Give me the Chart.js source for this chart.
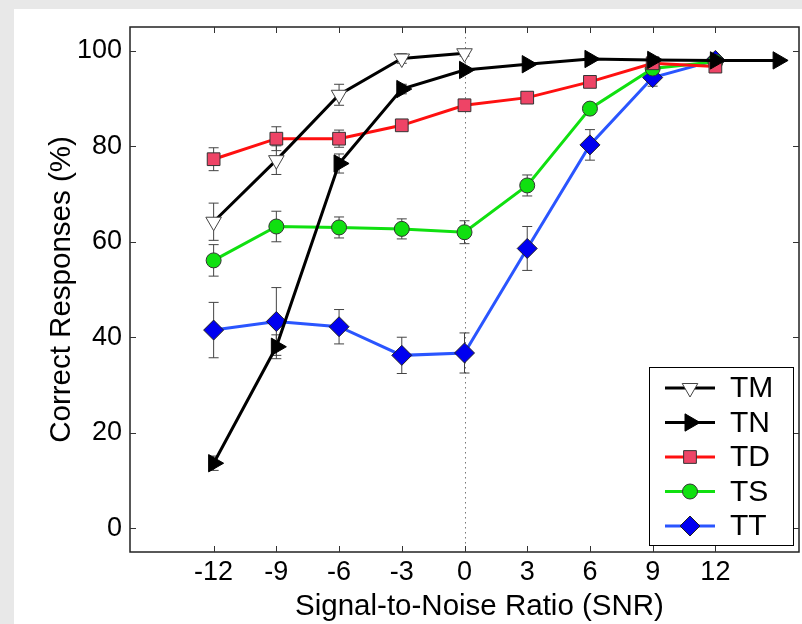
<!DOCTYPE html>
<html>
<head>
<meta charset="utf-8">
<script src="https://cdn.jsdelivr.net/npm/chart.js@4.4.1/dist/chart.umd.min.js"></script>
<style>
    html, body { margin: 0; padding: 0; width: 802px; height: 624px; overflow: hidden; background: #e8e8e8; }
    #quadro { position: absolute; left: 14px; top: 9px; width: 788px; height: 615px; background: #fff; }
</style>
</head>
<body>
<div id="quadro"><canvas id="grafico" width="788" height="615"></canvas></div>
<script>
// SNR (dB) e ticks
const snr = [-12, -9, -6, -3, 0, 3, 6, 9, 12, 15];
const xTicks = [-12, -9, -6, -3, 0, 3, 6, 9, 12];
const yTicks = [0, 20, 40, 60, 80, 100];

// respostas corretas (%) e barras de erro
const tm = [64.2, 77.1, 90.8, 98.4, 99.5, null, null, null, null, null];
const tmErr = [3.9, 3.0, 2.2, 1.0, 0.6, 0, 0, 0, 0, 0];

const tn = [13.6, 38.0, 76.4, 92.0, 96.0, 97.2, 98.3, 98.1, 98.0, 98.0];
const tnErr = [1.5, 2.5, 2.0, 1.0, 0.6, 0.5, 0.4, 0.4, 0.4, 0];

const td = [77.3, 81.6, 81.6, 84.4, 88.6, 90.2, 93.5, 97.4, 96.7, null];
const tdErr = [2.4, 2.5, 1.8, 1.0, 1.0, 0.8, 0.8, 0.5, 0.8, 0];

const ts = [56.1, 63.2, 63.0, 62.7, 62.0, 71.8, 87.9, 96.3, 97.7, null];
const tsErr = [3.3, 3.2, 2.2, 2.1, 2.4, 2.2, 1.0, 1.0, 0.5, 0];

const tt = [41.5, 43.3, 42.2, 36.2, 36.7, 58.6, 80.3, 94.4, 98.0, null];
const ttErr = [5.8, 7.1, 3.6, 3.8, 4.2, 4.6, 3.2, 1.8, 0.5, 0];

const tituloX = 'Signal-to-Noise Ratio (SNR)';
const tituloY = 'Correct Responses (%)';

const pontos = arr => snr.map((s, i) => ({ x: s, y: arr[i] }));

const fonte = 'Liberation Sans, Arial, Helvetica, sans-serif';

// linha pontilhada, barras de erro, moldura, ticks internos, título X e legenda
const extras = {
    id: 'extras',
    beforeDatasetsDraw(chart) {
        const { ctx, chartArea: a, scales: { x, y } } = chart;
        ctx.save();
        ctx.strokeStyle = '#777';
        ctx.lineWidth = 1;
        ctx.setLineDash([1.5, 3.5]);
        const x0 = Math.round(x.getPixelForValue(0)) + 0.5;
        ctx.beginPath();
        ctx.moveTo(x0, a.top);
        ctx.lineTo(x0, a.bottom);
        ctx.stroke();
        ctx.setLineDash([]);

        ctx.strokeStyle = '#444';
        chart.data.datasets.forEach(ds => {
            ds.data.forEach((p, i) => {
                const e = ds.erros[i];
                if (p.y === null || !e) return;
                const px = x.getPixelForValue(p.x);
                const t = y.getPixelForValue(p.y + e);
                const b = y.getPixelForValue(p.y - e);
                ctx.beginPath();
                ctx.moveTo(px, t); ctx.lineTo(px, b);
                ctx.moveTo(px - 5, t); ctx.lineTo(px + 5, t);
                ctx.moveTo(px - 5, b); ctx.lineTo(px + 5, b);
                ctx.stroke();
            });
        });
        ctx.restore();
    },
    afterDraw(chart) {
        const { ctx, chartArea: a, scales: { x, y } } = chart;
        ctx.save();
        ctx.strokeStyle = '#222';
        ctx.lineWidth = 1.5;
        ctx.strokeRect(a.left, a.top, a.right - a.left, a.bottom - a.top);

        ctx.lineWidth = 1;
        ctx.strokeStyle = '#333';
        ctx.beginPath();
        xTicks.forEach(v => {
            const px = Math.round(x.getPixelForValue(v)) + 0.5;
            ctx.moveTo(px, a.bottom); ctx.lineTo(px, a.bottom - 6);
            ctx.moveTo(px, a.top); ctx.lineTo(px, a.top + 6);
        });
        yTicks.forEach(v => {
            const py = Math.round(y.getPixelForValue(v)) + 0.5;
            ctx.moveTo(a.left, py); ctx.lineTo(a.left + 6, py);
            ctx.moveTo(a.right, py); ctx.lineTo(a.right - 6, py);
        });
        ctx.stroke();

        // título do eixo X (um pouco à direita do centro, como no original)
        ctx.fillStyle = '#000';
        ctx.font = '29.5px ' + fonte;
        ctx.textAlign = 'center';
        ctx.textBaseline = 'middle';
        ctx.fillText(tituloX, (a.left + a.right) / 2 + 15, chart.height - 17);

        // legenda dentro do gráfico
        const w = 144, h = 178;
        const lx = a.right - 6 - w, ly = a.bottom - 7 - h;
        ctx.fillStyle = '#fff';
        ctx.fillRect(lx, ly, w, h);
        ctx.strokeStyle = '#000';
        ctx.lineWidth = 1;
        ctx.strokeRect(lx + 0.5, ly + 0.5, w, h);

        ctx.textAlign = 'left';
        chart.data.datasets.forEach((ds, i) => {
            const cy = ly + 21 + i * 34.5;
            ctx.strokeStyle = ds.borderColor;
            ctx.lineWidth = 3;
            ctx.beginPath();
            ctx.moveTo(lx + 16, cy); ctx.lineTo(lx + 66, cy);
            ctx.stroke();

            ctx.fillStyle = ds.pointBackgroundColor;
            ctx.strokeStyle = ds.pointBorderColor;
            ctx.lineWidth = ds.pointBorderWidth;
            Chart.helpers.drawPoint(ctx, {
                pointStyle: ds.pointStyle,
                rotation: ds.pointRotation,
                radius: ds.pointRadius,
                borderWidth: ds.pointBorderWidth
            }, lx + 41, cy);

            ctx.fillStyle = '#000';
            ctx.font = '30px ' + fonte;
            ctx.textBaseline = 'middle';
            ctx.fillText(ds.label, lx + 81, cy + 1);
        });
        ctx.restore();
    }
};

const serie = (label, arr, erros, cor, estilo, rot, raio, fundo, borda) => ({
    label: label,
    data: pontos(arr),
    erros: erros,
    borderColor: cor,
    borderWidth: 3,
    tension: 0,
    spanGaps: false,
    pointStyle: estilo,
    pointRotation: rot,
    pointRadius: raio,
    pointBackgroundColor: fundo,
    pointBorderColor: borda,
    pointBorderWidth: 1
});

new Chart(document.getElementById('grafico').getContext('2d'), {
    type: 'line',
    data: {
        datasets: [
            serie('TM', tm, tmErr, '#000000', 'triangle', 180, 9, '#ffffff', '#444444'),
            serie('TN', tn, tnErr, '#000000', 'triangle', 90, 10, '#000000', '#000000'),
            serie('TD', td, tdErr, '#ff1010', 'rect', 0, 9, '#ee4466', '#333333'),
            serie('TS', ts, tsErr, '#10e010', 'circle', 0, 7.5, '#10e010', '#333333'),
            serie('TT', tt, ttErr, '#2a55ff', 'rectRot', 0, 10, '#0000f0', '#222222')
        ]
    },
    options: {
        responsive: false,
        animation: false,
        layout: { autoPadding: false, padding: { left: 0, top: 18, right: 3, bottom: 0 } },
        plugins: {
            legend: { display: false },
            tooltip: { enabled: false }
        },
        scales: {
            x: {
                type: 'linear',
                min: -16,
                max: 16,
                afterBuildTicks: s => { s.ticks = xTicks.map(v => ({ value: v })); },
                afterFit: s => { s.height = 72; s.paddingLeft = 0; s.paddingRight = 0; },
                grid: { display: false, drawTicks: false },
                border: { display: false },
                ticks: { padding: 4, color: '#000', autoSkip: false, maxRotation: 0, font: { family: fonte, size: 27 } }
            },
            y: {
                min: -5,
                max: 105,
                afterBuildTicks: s => { s.ticks = yTicks.map(v => ({ value: v })); },
                afterFit: s => { s.width = 116; s.paddingTop = 0; s.paddingBottom = 0; },
                grid: { display: false, drawTicks: false },
                border: { display: false },
                ticks: { padding: 8, color: '#000', font: { family: fonte, size: 27 } },
                title: {
                    display: true,
                    text: tituloY,
                    color: '#000',
                    font: { family: fonte, size: 29.5 },
                    padding: { top: 30, bottom: 0 }
                }
            }
        }
    },
    plugins: [extras]
});
</script>
</body>
</html>
